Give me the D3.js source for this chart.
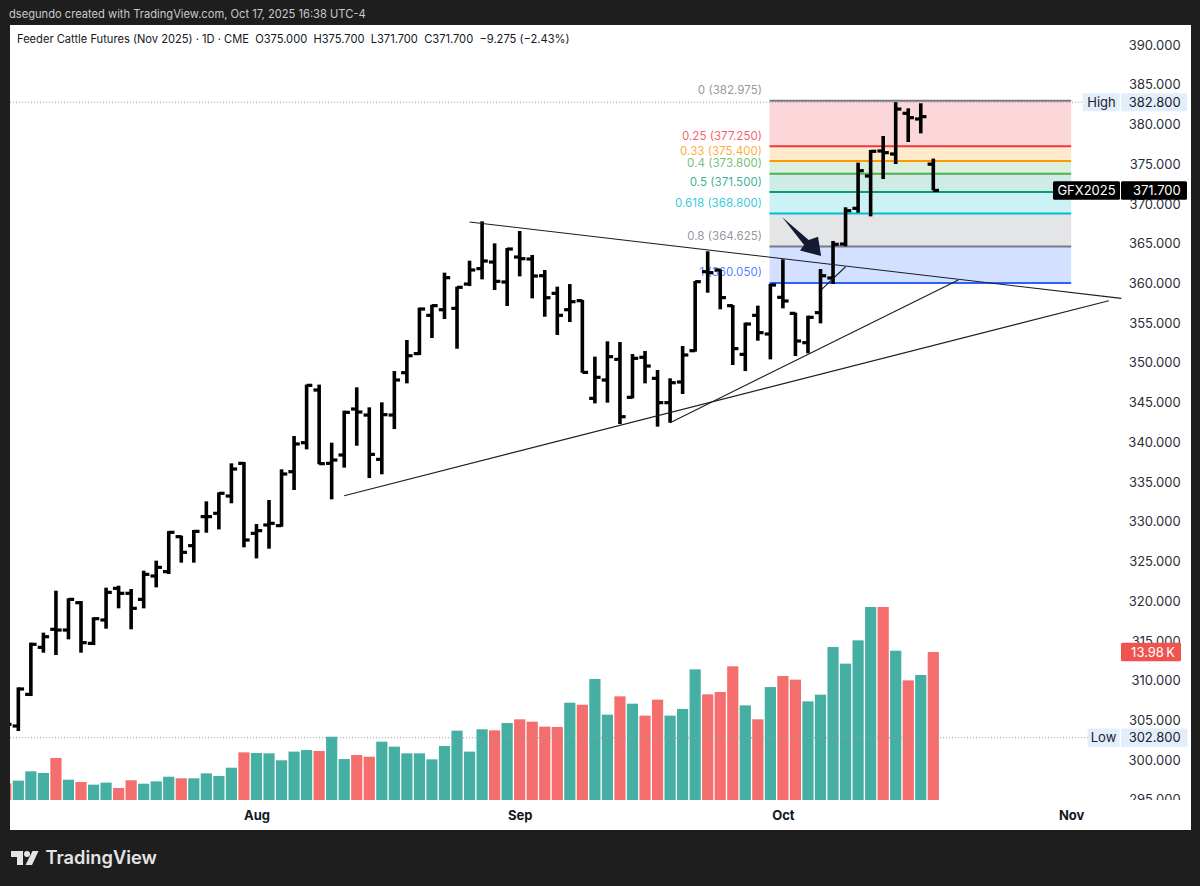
<!DOCTYPE html>
<html><head><meta charset="utf-8">
<script src="https://cdnjs.cloudflare.com/ajax/libs/d3/7.8.5/d3.min.js"></script>
<style>html,body{margin:0;padding:0;background:#1e1e1e;overflow:hidden}svg{display:block}text{font-family:Inter,"Noto Sans",sans-serif}</style>
</head><body><svg id="c" width="1200" height="886"></svg>
<script>
const opens=[304.5,304.28,308.26,314.18,316.45,316.36,319.8,314.68,317.62,321.61,320.98,320.22,323.16,323.71,328.11,326.98,330.63,331.05,333.23,337.34,328.53,329.58,329.5,336.29,339.94,346.57,337.34,338.39,344.18,343.42,337.84,343.42,348.75,351.15,355.97,356.68,356.85,359.91,361.85,362.68,360.17,363.31,363.06,360.96,358.74,356.68,357.82,345.52,347.83,350.43,345.65,350.69,348.04,344.98,347.58,351.52,361.47,361.68,357.19,351.06,355.97,353.62,358.24,356.22,352.53,356.31,360.67,364.95,369.44,373.51,376.66,376.28,381.4,380.69,375];
const highs=[305.5,309.14,314.77,316.03,321.31,320.35,320.01,317.96,321.69,321.94,321.52,323.83,325.09,328.82,328.24,328.95,332.56,333.69,337.34,337.51,329.7,332.73,336.59,340.78,347.25,347.25,339.94,343.97,346.91,344.39,345.02,348.96,352.87,356.94,357.31,361.34,359.58,362.85,367.8,365.03,364.45,366.59,363.57,361.68,359.58,359.91,357.9,350.77,352.7,352.61,351.1,351.48,349.09,348.04,352.11,360.29,364.03,361.76,357.27,355.05,357.19,359.92,363.02,356.31,355.93,361.8,365.33,369.57,375.19,376.78,378.55,382.8,382.03,382.66,375.7];
const lows=[303.5,303.65,308.05,313.51,313.22,315.19,313.51,314.47,316.53,319.09,316.45,319.09,321.73,323.41,324.84,324.84,328.61,329.03,332.31,326.77,325.38,326.6,329.37,333.99,339.1,337.22,332.81,336.8,339.56,335.49,335.96,341.66,347.41,350.98,353.12,355.51,351.77,359.66,360.5,359.16,357.15,360.88,358.11,355.8,353.5,355.13,348.75,344.89,344.98,342.29,345.52,347.41,341.96,342.46,346.07,351.4,358.82,356.73,349.72,348.96,352.78,350.43,356.85,350.85,351.19,354.96,359.91,364.66,368.89,368.43,373.13,375.02,377.79,378.88,371.7];
const closes=[304.49,308.94,314.56,315.52,316.36,320.22,314.77,317.79,321.1,320.98,319.09,323.37,324.25,328.66,326.14,328.78,330.63,333.57,336.63,327.69,328.87,329.79,336,339.78,347.16,337.3,337.76,343.76,343.8,338.47,343.47,347.83,350.89,356.77,357.19,360.71,359.5,361.68,362.81,360.25,364.32,363.1,360.92,358.19,355.97,357.69,348.79,348.17,350.77,343.21,350.56,349.59,344.98,347.49,350.98,360.21,361.34,358.2,351.78,354.88,353.79,359.79,357.78,352.74,355.72,360.96,364.91,369.14,374.18,376.62,376.45,381.94,380.85,380.98,371.7];
const volumes=[1.57,1.83,2.71,2.55,3.97,1.92,1.7,1.45,1.64,1.13,1.86,1.54,1.76,2.2,2.05,2.05,2.52,2.27,3.05,4.5,4.44,4.41,3.75,4.57,4.72,4.63,5.98,3.87,4.25,4.09,5.51,5.04,4.41,4.41,3.84,5.1,6.55,4.57,6.68,6.58,7.27,7.62,7.4,6.93,6.9,9.19,9,11.43,8.06,9.79,9.1,7.97,9.48,7.97,8.6,12.34,9.98,10.2,12.63,8.94,7.62,10.67,11.71,11.37,9.32,9.95,14.45,12.88,15.08,18.23,18.23,14.1,11.3,11.81,13.98];
const priceTicks=[295,300,305,310,315,320,325,330,335,340,345,350,355,360,365,370,375,380,385,390];
const monthBars=[20,41,62,85];
const monthLabels=["Aug","Sep","Oct","Nov"];
const fibRatios=["0","0.25","0.33","0.4","0.5","0.618","0.8","1"];
const fibPrices=[382.975,377.25,375.4,373.8,371.5,368.8,364.625,360.05];
const fibColors=["#787b86","#f23645","#ff9800","#4caf50","#089981","#00bcd4","#787b86","#2962ff"];
const fibBars=[60.93,85];
const trendLines=[[[37,367.72],[89,358.11]],[[27,333.27],[88,357.81]],[[53,342.46],[76,360.42]],[[65.1,359.25],[67,362.09]]];
const arrowEnds=[[61.95,368.31],[65.05,363.44]];
const highPrice=382.8, lowPrice=302.8, lastPrice=371.7, lastVolume=13.98;

const svg=d3.select("#c");
const x=d3.scaleLinear().domain([0,74]).range([5.8,933.3]);
const y=d3.scaleLinear().domain([300,390]).range([760,45]);
const v=d3.scaleLinear().domain([0,1]).range([800,789.414]);
const dark="#1e1e1e";
svg.append("rect").attr("width",1200).attr("height",886).attr("fill",dark);
svg.append("rect").attr("x",10).attr("y",25).attr("width",1181).attr("height",805).attr("fill","#fff");
const defs=svg.append("defs");
defs.append("clipPath").attr("id","pane").append("rect").attr("x",10).attr("y",25).attr("width",1181).attr("height",775);
defs.append("clipPath").attr("id","axis").append("rect").attr("x",1000).attr("y",25).attr("width",191).attr("height",775);
const plot=svg.append("g").attr("clip-path","url(#pane)");

// fibonacci
const fx0=x(fibBars[0]),fx1=x(fibBars[1]);
const fib=plot.append("g");
fibPrices.slice(1).forEach((p,i)=>{
  fib.append("rect").attr("x",fx0).attr("width",fx1-fx0).attr("y",y(fibPrices[i])).attr("height",y(p)-y(fibPrices[i])).attr("fill",fibColors[i+1]).attr("fill-opacity",0.2);
});
fibPrices.forEach((p,i)=>{
  fib.append("line").attr("x1",fx0).attr("x2",fx1).attr("y1",y(p)).attr("y2",y(p)).attr("stroke",fibColors[i]).attr("stroke-width",2);
  fib.append("text").attr("x",762).attr("y",y(p)-10.5).attr("dy","0.35em").attr("text-anchor","end").attr("font-size",11.6).attr("fill",fibColors[i]).attr("fill-opacity",0.8).text(`${fibRatios[i]} (${p.toFixed(3)})`);
});

// volume
plot.append("g").selectAll("rect").data(volumes).join("rect")
  .attr("x",(d,i)=>x(i)-5.6).attr("width",11.2).attr("y",d=>v(d)).attr("height",d=>800-v(d))
  .attr("fill",(d,i)=>closes[i]>=opens[i]?"#45afa4":"#f36e6c");

// high & low dotted
[[highPrice,1083],[lowPrice,1088]].forEach(([p,end])=>{
  plot.append("line").attr("x1",10).attr("x2",end).attr("y1",y(p)).attr("y2",y(p)).attr("stroke","#9a9da6").attr("stroke-width",1).attr("stroke-dasharray","1 2");
});

// OHLC
const bars=plot.append("g").selectAll("g").data(d3.range(opens.length)).join("g");
bars.append("rect").attr("x",i=>x(i)-1.8).attr("width",3.6).attr("y",i=>y(highs[i])).attr("height",i=>y(lows[i])-y(highs[i])).attr("fill","#000");
bars.append("rect").attr("x",i=>x(i)-5.7).attr("width",5.7).attr("y",i=>y(opens[i])-1.6).attr("height",3.2).attr("fill","#000");
bars.append("rect").attr("x",i=>x(i)).attr("width",5.7).attr("y",i=>y(closes[i])-1.6).attr("height",3.2).attr("fill","#000");

// trend lines
const lineGen=d3.line().x(d=>x(d[0])).y(d=>y(d[1]));
svg.append("g").selectAll("path").data(trendLines).join("path").attr("d",lineGen).attr("fill","none").attr("stroke","#1a1d26").attr("stroke-width",1.1);

// arrow
(function(){
  const [a,b]=arrowEnds, ax=x(a[0]),ay=y(a[1]),bx=x(b[0]),by=y(b[1]);
  const L=Math.hypot(bx-ax,by-ay),ux=(bx-ax)/L,uy=(by-ay)/L,px=uy,py=-ux;
  const shape=[[0,0],[34.7,2.6],[39,11.5],[L,0],[36,-11],[35,-4.2]];
  svg.append("polygon").attr("fill","#131a33")
    .attr("points",shape.map(([s,t])=>[ax+ux*s+px*t,ay+uy*s+py*t].join(",")).join(" "));
})();

// price axis
const yAxis=svg.append("g").attr("clip-path","url(#axis)").append("g").attr("transform","translate(1120,0)")
  .call(d3.axisRight(y).tickValues(priceTicks).tickSize(0).tickFormat(d3.format(".3f")));
yAxis.select(".domain").remove();
yAxis.selectAll("text").attr("x",60.7).attr("text-anchor","end").attr("font-size",13).attr("fill","#2a2e39").style("font-family","Inter");

// time axis
const tAxis=svg.append("g").attr("transform","translate(0,800)")
  .call(d3.axisBottom(x).tickValues(monthBars).tickSize(0).tickPadding(11).tickFormat((d,i)=>monthLabels[i]));
tAxis.select(".domain").remove();
tAxis.selectAll("text").attr("font-size",13).attr("font-weight",700).attr("fill","#131722").style("font-family","Inter");

// price labels
function tag(x0,w,cy,h,bg,txt,col,anchor,tx){
  svg.append("rect").attr("x",x0).attr("y",cy-h/2).attr("width",w).attr("height",h).attr("rx",1.5).attr("fill",bg);
  svg.append("text").attr("x",tx).attr("y",cy).attr("dy","0.35em").attr("text-anchor",anchor).attr("font-size",13).attr("fill",col).text(txt);
}
const fmt=d3.format(".3f");
const lightBlue="#e3eefb";
tag(1082.7,37,y(highPrice),18,lightBlue,"High","#1c2030","middle",1101.5);
tag(1121,66,y(highPrice),18,lightBlue,fmt(highPrice),"#1c2030","end",1180.7);
tag(1087.7,32,y(lowPrice),18.5,lightBlue,"Low","#1c2030","middle",1103.5);
tag(1121,66.5,y(lowPrice),18.5,lightBlue,fmt(lowPrice),"#1c2030","end",1180.7);
tag(1053,67,y(lastPrice),18.5,"#000","GFX2025","#fff","middle",1086.5);
tag(1121,66,y(lastPrice),18.5,"#000",fmt(lastPrice),"#fff","end",1180.7);
tag(1121,60,v(lastVolume),18.5,"#ef5350",lastVolume.toFixed(2)+"\u2009K","#fff","end",1175);

// header texts
svg.append("text").attr("x",9).attr("y",14).attr("dy","0.35em").attr("font-size",11.15).attr("fill","#c9c9c9").text("dsegundo created with TradingView.com, Oct 17, 2025 16:38 UTC-4");
svg.append("text").attr("x",17).attr("y",39.5).attr("dy","0.35em").attr("font-size",11.14).attr("fill","#131722").attr("xml:space","preserve").style("white-space","pre").text("Feeder Cattle Futures (Nov 2025) · 1D · CME  O375.000  H375.700  L371.700  C371.700  −9.275 (−2.43%)");

// logo
const logo=svg.append("g").attr("fill","#e4e4e4");
logo.append("path").attr("d","M11 851H23V865H17V857H11Z");
logo.append("circle").attr("cx",27).attr("cy",854).attr("r",3);
logo.append("path").attr("d","M32.5 851H38.5L32 865H25.5Z");
svg.append("text").attr("x",45.5).attr("y",858).attr("dy","0.35em").attr("font-size",18.3).attr("font-weight",600).attr("fill","#e4e4e4").text("TradingView");
</script></body></html>
